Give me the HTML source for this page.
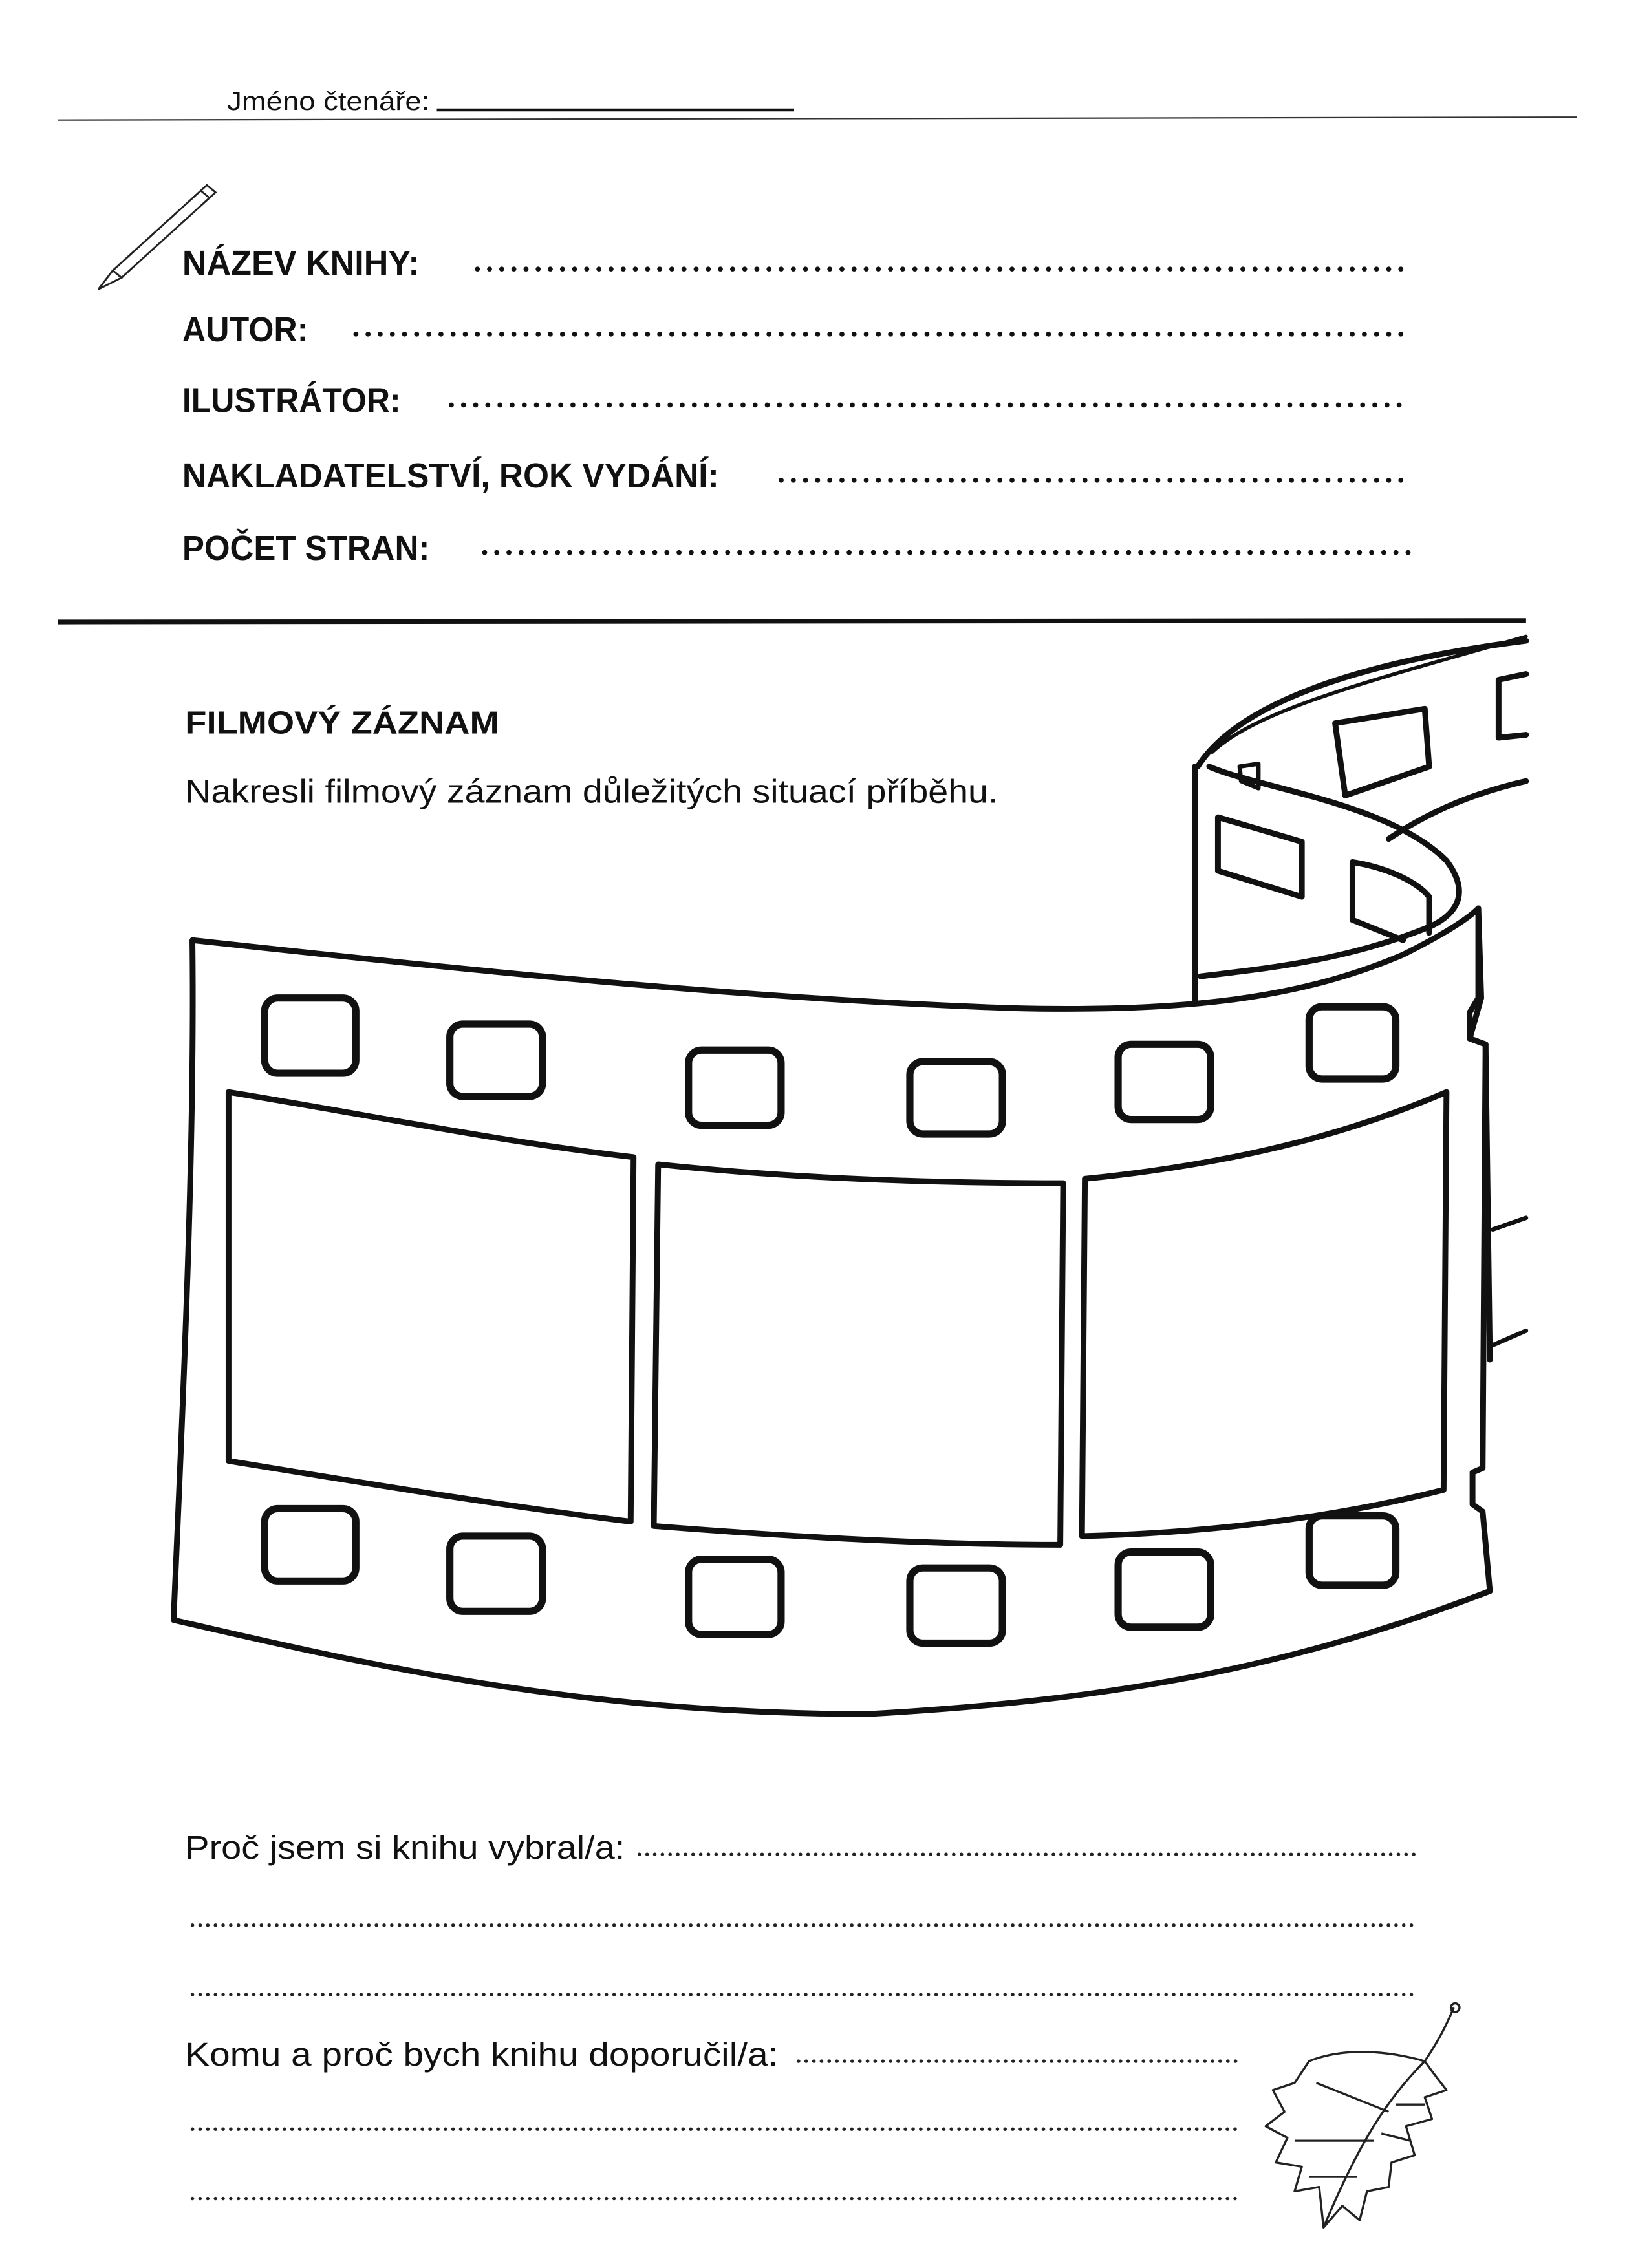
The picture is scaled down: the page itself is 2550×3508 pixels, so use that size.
<!DOCTYPE html>
<html><head><meta charset="utf-8"><style>
html,body{margin:0;padding:0;background:#fff}
svg{display:block}
text{font-family:"Liberation Sans Narrow","Liberation Sans",sans-serif;fill:#111}
</style></head><body>
<svg width="2550" height="3508" viewBox="0 0 1140 1568" preserveAspectRatio="none" xmlns="http://www.w3.org/2000/svg">
<rect width="1140" height="1568" fill="#fff"/>
<text x="157" y="76" font-size="18" textLength="140" lengthAdjust="spacingAndGlyphs">Jméno čtenáře:</text>
<line x1="302" y1="76" x2="549" y2="76" stroke="#111" stroke-width="2"/>
<line x1="40" y1="83" x2="1090" y2="81" stroke="#333" stroke-width="1"/>
<g fill="none" stroke="#222" stroke-width="1.3">
<polygon points="143,128 149,133 84,192 78,187"/>
<polygon points="78,187 84,192 68,200"/>
<line x1="139" y1="132" x2="145" y2="137"/>
</g>
<g font-weight="bold" font-size="24">
<text x="126" y="190" textLength="164" lengthAdjust="spacingAndGlyphs">NÁZEV KNIHY:</text>
<text x="126" y="236" textLength="87" lengthAdjust="spacingAndGlyphs">AUTOR:</text>
<text x="126" y="285" textLength="151" lengthAdjust="spacingAndGlyphs">ILUSTRÁTOR:</text>
<text x="126" y="337" textLength="371" lengthAdjust="spacingAndGlyphs">NAKLADATELSTVÍ, ROK VYDÁNÍ:</text>
<text x="126" y="387" textLength="171" lengthAdjust="spacingAndGlyphs">POČET STRAN:</text>
</g>
<g stroke="#111" stroke-width="3.4" stroke-linecap="round" stroke-dasharray="0.1 8.3">
<line x1="330" y1="186" x2="975" y2="186"/>
<line x1="246" y1="231" x2="975" y2="231"/>
<line x1="312" y1="280" x2="975" y2="280"/>
<line x1="540" y1="332" x2="975" y2="332"/>
<line x1="335" y1="382" x2="975" y2="382"/>
</g>
<line x1="40" y1="430" x2="1055" y2="429" stroke="#111" stroke-width="3.2"/>
<text x="128" y="507" font-size="22" font-weight="bold" textLength="217" lengthAdjust="spacingAndGlyphs">FILMOVÝ ZÁZNAM</text>
<text x="128" y="555" font-size="23" textLength="562" lengthAdjust="spacingAndGlyphs">Nakresli filmový záznam důležitých situací příběhu.</text>
<g fill="none" stroke="#111" stroke-width="4" stroke-linejoin="round" stroke-linecap="round">
<path d="M828,530 C860,480 960,455 1055,443"/>
<path d="M838,520 C870,490 950,470 1055,440" stroke-width="2.5"/>
<path d="M960,580 C990,560 1020,548 1055,540"/>
<path d="M836,530 C870,545 960,555 1000,595 C1015,615 1010,630 990,640 C930,665 870,670 830,675"/>
<path d="M826,530 L826,692"/>
<path d="M1022,628 L1024,690 L1016,718 L1027,722 L1030,940" />
<path d="M1032,850 L1055,842 M1032,930 L1055,920" stroke-width="3"/>
<path d="M857,530 L870,528 L870,545 L858,540 Z" stroke-width="3"/>
<path d="M923,500 L985,490 L988,530 L930,550 Z"/>
<path d="M1036,470 L1055,466 M1036,470 L1036,510 L1055,508"/>
<path d="M842,565 L900,582 L900,620 L842,602 Z"/>
<path d="M935,596 C960,600 980,610 988,620 L988,645 M935,596 L935,636 L970,650"/>
<path d="M133,650 C300,668 500,690 700,697 C820,700 900,690 970,660 C1000,645 1015,635 1022,628 L1022,690 L1016,700 L1016,718 L1027,722 L1025,1015 L1018,1018 L1018,1040 L1025,1045 L1030,1100 C900,1150 780,1175 600,1185 C400,1185 250,1150 120,1120 C125,1000 135,800 133,650 Z"/>
<path d="M158,755 C250,770 350,790 438,800 L436,1052 C340,1040 250,1025 158,1010 Z"/>
<path d="M455,805 C550,815 650,818 735,818 L733,1068 C640,1068 540,1062 452,1055 Z"/>
<path d="M750,815 C850,805 930,785 1000,755 L998,1030 C920,1050 830,1060 748,1062 Z"/>
</g>
<g fill="none" stroke="#111" stroke-width="5" stroke-linejoin="round">
<rect x="183" y="690" width="63" height="52" rx="9"/>
<rect x="311" y="708" width="64" height="50" rx="9"/>
<rect x="476" y="726" width="64" height="52" rx="9"/>
<rect x="629" y="734" width="64" height="50" rx="9"/>
<rect x="773" y="722" width="64" height="52" rx="9"/>
<rect x="905" y="696" width="60" height="50" rx="9"/>
<rect x="183" y="1043" width="63" height="50" rx="9"/>
<rect x="311" y="1062" width="64" height="52" rx="9"/>
<rect x="476" y="1078" width="64" height="52" rx="9"/>
<rect x="629" y="1084" width="64" height="52" rx="9"/>
<rect x="773" y="1073" width="64" height="52" rx="9"/>
<rect x="905" y="1048" width="60" height="48" rx="9"/>
</g>
<g font-size="23">
<text x="128" y="1285" textLength="304" lengthAdjust="spacingAndGlyphs">Proč jsem si knihu vybral/a:</text>
<text x="128" y="1428" textLength="410" lengthAdjust="spacingAndGlyphs">Komu a proč bych knihu doporučil/a:</text>
</g>
<g stroke="#222" stroke-width="2.4" stroke-linecap="round" stroke-dasharray="0.1 5.2">
<line x1="442" y1="1282" x2="980" y2="1282"/>
<line x1="133" y1="1331" x2="980" y2="1331"/>
<line x1="133" y1="1379" x2="980" y2="1379"/>
<line x1="552" y1="1425" x2="855" y2="1425"/>
<line x1="133" y1="1472" x2="855" y2="1472"/>
<line x1="133" y1="1520" x2="855" y2="1520"/>
</g>
<g fill="none" stroke="#222" stroke-width="1.5" stroke-linejoin="round">
<path d="M1005,1388 C1000,1400 995,1410 985,1425"/>
<circle cx="1006" cy="1388" r="3"/>
<path d="M985,1425 C960,1418 930,1415 905,1425 L895,1440 L880,1445 L888,1460 L875,1470 L890,1478 L882,1495 L900,1498 L895,1515 L912,1512 L915,1540 L928,1525 L940,1535 L945,1515 L960,1512 L962,1495 L978,1490 L972,1470 L990,1465 L985,1450 L1000,1445 L990,1432 Z"/>
<path d="M985,1425 C960,1450 940,1480 915,1540"/>
<path d="M960,1460 L910,1440 M950,1480 L895,1480 M938,1505 L905,1505 M965,1455 L985,1455 M955,1475 L975,1480"/>
</g>
</svg>
</body></html>
